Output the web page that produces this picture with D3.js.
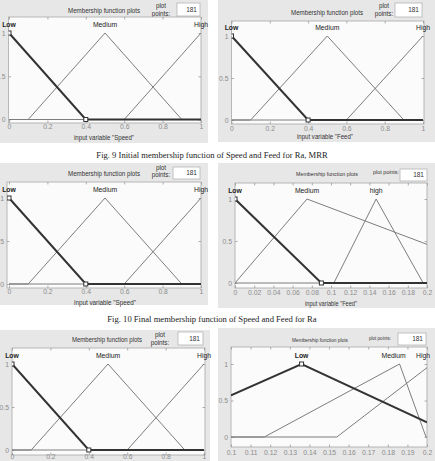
<!DOCTYPE html>
<html>
<head>
<meta charset="utf-8">
<script src="https://cdn.jsdelivr.net/npm/d3@7"></script>
<style>
body{margin:0;background:#fff}
svg{display:block}
text{font-family:"Liberation Sans",Arial,sans-serif}
.cap{font-family:"Liberation Serif","Times New Roman",serif}
</style>
</head>
<body>
<div id="grafica"></div>
<script>
// Datos de las funciones de membresía (vértices [x, grado])

const speedTicks = [0, 0.2, 0.4, 0.6, 0.8, 1]
const feedTicksFinal = [0, 0.02, 0.04, 0.06, 0.08, 0.1, 0.12, 0.14, 0.16, 0.18, 0.2]
const feedTicksRa = [0.1, 0.11, 0.12, 0.13, 0.14, 0.15, 0.16, 0.17, 0.18, 0.19, 0.2]
const yTicks = [0, 0.5, 1]

const mfNames = ["Low", "Medium", "High"]
const mfNamesFeedFinal = ["Low", "Medium", "high"]

// iniciales (Speed y Feed) y final de Speed
const initLow = [[0, 1], [0.4, 0], [1, 0]]
const initMedium = [[0, 0], [0.1, 0], [0.5, 1], [0.9, 0], [1, 0]]
const initHigh = [[0, 0], [0.6, 0], [1, 1]]
const initLabelX = [0, 0.5, 1]

// Feed final
const feedLow = [[0, 1], [0.09, 0], [0.2, 0]]
const feedMedium = [[0, 0], [0.075, 1], [0.2, 0.46]]
const feedHigh = [[0, 0], [0.103, 0], [0.147, 1], [0.196, 0], [0.2, 0]]
const feedLabelX = [0, 0.075, 0.147]

// Feed para Ra
const raLow = [[0.1, 0.57], [0.136, 1], [0.2, 0.2]]
const raMedium = [[0.1, 0], [0.117, 0], [0.186, 1], [0.1995, 0], [0.2, 0]]
const raHigh = [[0.1, 0], [0.154, 0], [0.2, 0.95]]
const raLabelX = [0.136, 0.183, 0.198]

const plotPoints = "181"

const captions = [
    "Fig. 9 Initial membership function of Speed and Feed for Ra, MRR",
    "Fig. 10 Final membership function of Speed and Feed for Ra"
]

// Paneles (posición en pixeles)
const panels = [
    {bg: [0, 0, 208, 143], box: [8.5, 17, 201, 123], xr: [9, 201], yr: [119.5, 33], domain: [0, 1],
     ticks: speedTicks, mfs: [initLow, initMedium, initHigh], names: mfNames, labelX: initLabelX,
     marks: [[0, 1], [0.4, 0]], title: [104, 10, 72, 6.8], pp: [161, 6, 14], ppBox: [177, 3, 200, 16],
     tickY: 127, xlab: [104, 140, 60], varName: "Speed"},
    {bg: [218, 0, 435, 142], box: [231.5, 21, 424, 124], xr: [231.5, 423], yr: [120, 36], domain: [0, 1],
     ticks: speedTicks, mfs: [initLow, initMedium, initHigh], names: mfNames, labelX: initLabelX,
     marks: [[0, 1], [0.4, 0]], title: [327, 12, 72, 6.8], pp: [384, 6, 14], ppBox: [395, 3, 422, 17],
     tickY: 129, xlab: [325, 139, 56], varName: "Feed"},
    {bg: [0, 163, 208, 305], box: [7, 182, 201, 288], xr: [9, 201], yr: [284, 198], domain: [0, 1],
     ticks: speedTicks, mfs: [initLow, initMedium, initHigh], names: mfNames, labelX: initLabelX,
     marks: [[0, 1], [0.4, 0]], title: [104, 173, 72, 6.8], pp: [161, 168, 175], ppBox: [173, 167, 200, 179],
     tickY: 292, xlab: [105, 305, 62], varName: "Speed"},
    {bg: [218, 163, 435, 308], box: [235, 183, 427, 288], xr: [235, 427], yr: [283, 199], domain: [0, 0.2],
     ticks: feedTicksFinal, mfs: [feedLow, feedMedium, feedHigh], names: mfNamesFeedFinal, labelX: feedLabelX,
     marks: [[0, 1], [0.09, 0]], title: [327, 173, 62, 6], pp1: [386, 172, 26], ppBox: [400, 169, 427, 181],
     tickY: 293, xlab: [331, 306, 52], varName: "Feed"},
    {bg: [0, 330, 210, 461], box: [12, 348, 205, 455], xr: [12, 204], yr: [450, 364], domain: [0, 1],
     ticks: speedTicks, mfs: [initLow, initMedium, initHigh], names: mfNames, labelX: initLabelX,
     marks: [[0, 1], [0.4, 0]], title: [107, 339, 70, 6.8], pp: [160, 335, 343], ppBox: [178, 332, 203, 345],
     tickY: 457, xlab: null, varName: "Speed"},
    {bg: [218, 328, 435, 461], box: [231, 347, 427, 447], xr: [231, 427], yr: [437, 364], domain: [0.1, 0.2],
     ticks: feedTicksRa, mfs: [raLow, raMedium, raHigh], names: mfNames, labelX: raLabelX,
     marks: [[0.136, 1]], title: [320, 339, 56, 6], pp1: [380, 338, 22], ppBox: [398, 333, 426, 345],
     tickY: 453, xlab: null, varName: "Feed"}
]

const width = 435
const height = 461

const svg = d3.select('#grafica')
    .append("svg")
    .attr("width", width)
    .attr("height", height)

panels.forEach((p, i) => drawPanel(p, i))

svg.append("text")
    .attr("class", "cap")
    .attr("x", 212)
    .attr("y", 158)
    .attr("text-anchor", "middle")
    .attr("font-size", 8.6)
    .attr("fill", "#222")
    .text(captions[0])

svg.append("text")
    .attr("class", "cap")
    .attr("x", 212)
    .attr("y", 322)
    .attr("text-anchor", "middle")
    .attr("font-size", 8.6)
    .attr("fill", "#222")
    .text(captions[1])


function drawPanel(p, idx) {

    const g = svg.append("g")

    // fondo gris de la ventana
    g.append("rect")
        .attr("x", p.bg[0]).attr("y", p.bg[1])
        .attr("width", p.bg[2] - p.bg[0]).attr("height", p.bg[3] - p.bg[1])
        .attr("fill", "#e7e7e7")

    const xScale = d3.scaleLinear().domain(p.domain).range(p.xr)
    const yScale = d3.scaleLinear().domain([0, 1]).range(p.yr)

    // título y cuadro de "plot points"
    g.append("text")
        .attr("x", p.title[0]).attr("y", p.title[1] + 2.5)
        .attr("text-anchor", "middle")
        .attr("font-size", p.title[3])
        .attr("textLength", p.title[2])
        .attr("lengthAdjust", "spacingAndGlyphs")
        .attr("fill", "#333")
        .text("Membership function plots")

    if (p.pp) {
        g.append("text").attr("x", p.pp[0]).attr("y", p.pp[1] + 2.3)
            .attr("text-anchor", "middle").attr("font-size", 6.3).attr("fill", "#333").text("plot")
        g.append("text").attr("x", p.pp[0]).attr("y", p.pp[2] + 2.3)
            .attr("text-anchor", "middle").attr("font-size", 6.3).attr("fill", "#333").text("points:")
    } else {
        g.append("text").attr("x", p.pp1[0]).attr("y", p.pp1[1] + 2.3)
            .attr("text-anchor", "middle").attr("font-size", 5.6)
            .attr("textLength", p.pp1[2]).attr("lengthAdjust", "spacingAndGlyphs")
            .attr("fill", "#333").text("plot points:")
    }

    g.append("rect")
        .attr("x", p.ppBox[0]).attr("y", p.ppBox[1])
        .attr("width", p.ppBox[2] - p.ppBox[0]).attr("height", p.ppBox[3] - p.ppBox[1])
        .attr("fill", "#fff").attr("stroke", "#b5b5b5").attr("stroke-width", 0.8)
    g.append("text")
        .attr("x", p.ppBox[2] - 3).attr("y", (p.ppBox[1] + p.ppBox[3]) / 2 + 2.3)
        .attr("text-anchor", "end").attr("font-size", 6.5).attr("fill", "#333")
        .text(plotPoints)

    // área de la gráfica
    const bw = p.box[2] - p.box[0]
    const bh = p.box[3] - p.box[1]
    g.append("rect")
        .attr("x", p.box[0]).attr("y", p.box[1])
        .attr("width", bw).attr("height", bh)
        .attr("fill", "#fbfbfb").attr("stroke", "#a8a8a8").attr("stroke-width", 0.8)

    const fmt = d => String(d)

    const xAxis = d3.axisBottom(xScale).tickValues(p.ticks).tickSize(-2.5).tickPadding(0).tickFormat(fmt)
    const xTop = d3.axisTop(xScale).tickValues(p.ticks).tickSize(-2.5).tickFormat("")
    const yAxis = d3.axisLeft(yScale).tickValues(yTicks).tickSize(-2.5).tickPadding(3).tickFormat(fmt)
    const yRight = d3.axisRight(yScale).tickValues(yTicks).tickSize(-2.5).tickFormat("")

    const ax = g.append("g").attr("transform", "translate(0," + p.box[3] + ")").call(xAxis)
    ax.selectAll("text").attr("y", p.tickY - p.box[3]).attr("dy", "0.35em")
    const topAx = g.append("g").attr("transform", "translate(0," + p.box[1] + ")").call(xTop)
    g.append("g").attr("transform", "translate(" + p.box[0] + ",0)").call(yAxis)
    const rightAx = g.append("g").attr("transform", "translate(" + p.box[2] + ",0)").call(yRight)

    // las marcas de arriba y derecha no llevan texto
    topAx.selectAll("text").remove()
    rightAx.selectAll("text").remove()

    g.selectAll(".domain").remove()
    g.selectAll(".tick line").attr("stroke", "#9a9a9a").attr("stroke-width", 0.8)
    g.selectAll(".tick text").attr("fill", "#8c8c8c").attr("font-size", 6.8)
        .attr("font-family", "Liberation Sans, Arial, sans-serif")

    // recorte al área de la gráfica
    const clipId = "clip" + idx
    g.append("clipPath").attr("id", clipId)
        .append("rect").attr("x", p.box[0]).attr("y", p.box[1]).attr("width", bw).attr("height", bh)

    const line = d3.line().x(d => xScale(d[0])).y(d => yScale(d[1]))

    const curves = g.append("g").attr("clip-path", "url(#" + clipId + ")")

    // funciones no seleccionadas (grises)
    p.mfs.forEach((mf, k) => {
        if (k === 0) return
        curves.append("path")
            .attr("d", line(mf))
            .attr("fill", "none")
            .attr("stroke", "#7d7d7d")
            .attr("stroke-width", 1)
    })

    // función seleccionada (gruesa)
    curves.append("path")
        .attr("d", line(p.mfs[0]))
        .attr("fill", "none")
        .attr("stroke", "#333")
        .attr("stroke-width", 2)

    curves.selectAll("rect.mark")
        .data(p.marks)
        .enter()
        .append("rect")
        .attr("class", "mark")
        .attr("x", d => xScale(d[0]) - 2)
        .attr("y", d => yScale(d[1]) - 2)
        .attr("width", 4).attr("height", 4)
        .attr("fill", "#fff").attr("stroke", "#333").attr("stroke-width", 1)

    // nombres de las funciones
    g.selectAll("text.mfname")
        .data(p.names)
        .enter()
        .append("text")
        .attr("class", "mfname")
        .attr("x", (d, k) => xScale(p.labelX[k]))
        .attr("y", yScale(1) - 6)
        .attr("text-anchor", "middle")
        .attr("font-size", 6.8)
        .attr("font-weight", (d, k) => k === 0 ? "bold" : "normal")
        .attr("fill", "#222")
        .text(d => d)

    if (p.xlab) {
        g.append("text")
            .attr("x", p.xlab[0]).attr("y", p.xlab[1])
            .attr("text-anchor", "middle")
            .attr("font-size", 6.6)
            .attr("textLength", p.xlab[2])
            .attr("lengthAdjust", "spacingAndGlyphs")
            .attr("fill", "#333")
            .text('input variable "' + p.varName + '"')
    }
}
</script>
</body>
</html>
